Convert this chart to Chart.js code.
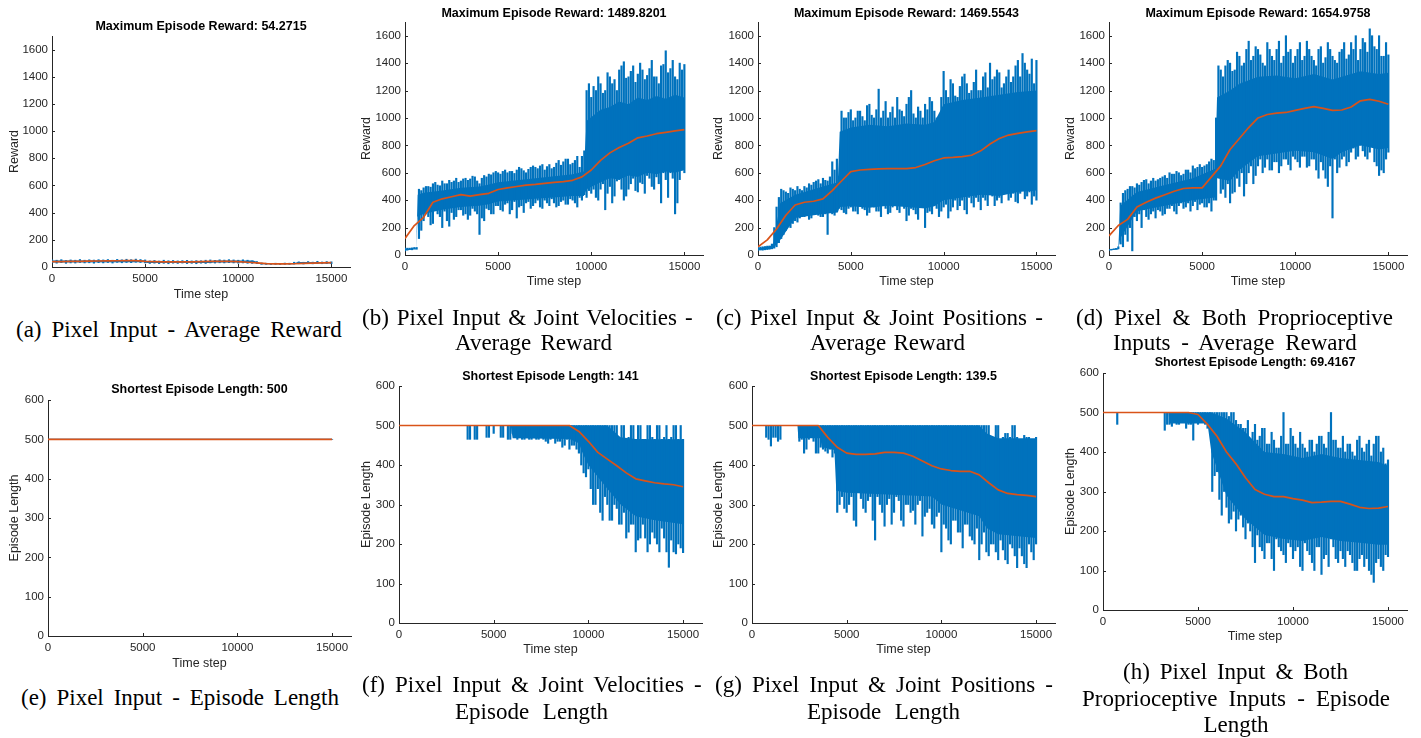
<!DOCTYPE html>
<html><head><meta charset="utf-8">
<script src="https://cdn.jsdelivr.net/npm/chart.js@4.4.1/dist/chart.umd.min.js"></script>
<style>
html,body{margin:0;padding:0;background:#fff;}
#page{position:relative;width:1421px;height:738px;overflow:hidden;background:#fff;}
canvas{position:absolute;}
.ttl{position:absolute;font-family:"Liberation Sans",Arial,Helvetica,sans-serif;font-weight:bold;font-size:12.5px;line-height:15px;color:#000;text-align:center;white-space:nowrap;width:400px;}
.cap{position:absolute;font-family:"Liberation Serif","Times New Roman",serif;font-size:23px;line-height:26px;color:#000;white-space:nowrap;}
</style></head><body><div id="page"></div>
<script>
// ---- tick labels ----
const XTICKS = [0,5000,10000,15000];
const YTICKS_REWARD = [0,200,400,600,800,1000,1200,1400,1600];
const YTICKS_LENGTH = [0,100,200,300,400,500,600];

// ---- time steps of the sampled raw-noise extremes ----
const X = [0,250,500,750,1000,1250,1500,1750,2000,2250,
  2500,2750,3000,3250,3500,3750,4000,4250,4500,4750,
  5000,5250,5500,5750,6000,6250,6500,6750,7000,7250,
  7500,7750,8000,8250,8500,8750,9000,9250,9500,9750,
  10000,10250,10500,10750,11000,11250,11500,11750,12000,12250,
  12500,12750,13000,13250,13500,13750,14000,14250,14500,14750,
  15000];
const X2 = [125,375,625,875,1125,1375,1625,1875,2125,2375,
  2625,2875,3125,3375,3625,3875,4125,4375,4625,4875,
  5125,5375,5625,5875,6125,6375,6625,6875,7125,7375,
  7625,7875,8125,8375,8625,8875,9125,9375,9625,9875,
  10125,10375,10625,10875,11125,11375,11625,11875,12125,12375,
  12625,12875,13125,13375,13625,13875,14125,14375,14625,14875];
// ---- time steps of the smoothed (average) curve ----
const XS = [0,500,1000,1500,2000,2500,3000,3500,4000,4500,
  5000,5500,6000,6500,7000,7500,8000,8500,9000,9500,
  10000,10500,11000,11500,12000,12500,13000,13500,14000,14500,15000];
const XE = [0,15000];

// (a) Pixel Input - Average Reward
const hiA = [52,50,54,48,52,50,55,50,53,51,
  54,52,55,50,56,53,57,54,58,55,
  52,45,48,44,50,46,48,45,47,49,
  45,47,46,50,52,49,53,51,54,52,
  50,53,50,45,40,30,28,27,28,27,
  29,28,35,38,35,40,36,42,37,40,
  38];
const loA = [30,28,32,27,30,29,33,30,31,28,
  32,30,33,29,34,31,33,32,35,33,
  30,26,28,25,27,24,28,26,29,25,
  27,24,28,26,30,29,31,30,32,30,
  28,30,27,26,25,20,19,18,19,18,
  20,19,22,24,22,25,23,26,24,25,
  24];
const coreXA = [0,5000,5100,8500,8700,10800,11200,13000,13200,15000];
const coreHiA = [48,50,42,42,48,48,27,27,36,36];
const coreLoA = [33,35,29,29,34,34,21,21,26,26];
const avgA = [40,40,41,42,43,44,45,46,48,47,41,39,38,37,37,38,40,41,42,42,40,35,30,25,23,23,24,26,28,30,32];

// (b) Pixel Input & Joint Velocities - Average Reward
const hiB = [50,50,55,480,490,500,520,510,540,520,
  530,560,540,560,555,570,520,580,590,600,
  600,610,600,610,620,630,600,640,640,650,
  620,660,640,690,680,700,670,720,720,1200,
  1150,1200,1250,1200,1300,1280,1350,1410,1300,1380,
  1320,1350,1310,1420,1300,1380,1490,1360,1300,1400,
  1390];
const loB = [30,40,45,120,250,280,230,300,200,250,
  310,280,330,300,290,320,150,250,330,300,
  360,320,380,330,270,360,380,340,380,350,
  400,360,380,360,400,370,400,350,400,420,
  450,420,480,330,500,430,550,400,480,560,
  460,520,580,500,570,380,550,600,300,550,
  600];
const hi2B = [50,52,55,470,500,495,530,505,520,545,
  540,530,555,545,575,540,560,570,585,610,
  590,620,610,595,640,615,625,650,630,660,
  645,630,670,655,700,660,690,640,760,1250,
  1230,1300,1180,1330,1250,1200,1380,1290,1340,1260,
  1400,1280,1360,1300,1250,1390,1330,1420,1280,1350];
const lo2B = [35,38,42,180,300,220,330,280,320,210,
  260,330,290,260,340,300,270,340,300,360,
  330,370,300,390,350,310,390,360,400,340,
  380,410,350,390,370,410,380,420,440,470,
  480,400,520,450,380,540,480,430,520,470,
  530,450,560,480,520,600,420,560,380,620];
const coreXB = [0,600,680,1000,2000,3000,4000,4500,5000,6000,7000,8000,9000,9600,9750,10500,11000,11500,12000,12500,13000,13500,14000,14500,15000];
const coreHiB = [45,50,440,455,470,490,500,515,530,545,560,575,590,610,980,1060,1080,1120,1100,1150,1130,1160,1140,1170,1150];
const coreLoB = [35,42,280,300,330,350,360,370,390,400,410,420,430,430,480,530,560,550,580,570,600,590,610,600,620];
const avgB = [120,215,275,385,410,425,440,430,440,450,478,490,500,510,515,522,530,535,545,570,620,690,745,785,815,855,868,885,895,905,915];

// (c) Pixel Input & Joint Positions - Average Reward
const hiC = [60,60,65,80,350,480,460,490,470,480,
  500,520,530,550,560,540,680,700,1050,1000,
  1060,1000,1050,980,1100,1000,1210,1050,1000,1080,
  1150,1050,1100,1200,1000,1050,1100,1150,1050,1000,
  1340,1150,1250,1150,1300,1250,1200,1350,1200,1330,
  1400,1300,1330,1250,1350,1300,1420,1470,1350,1430,
  1420];
const loC = [35,35,40,45,60,120,180,200,250,270,
  280,260,300,290,280,150,300,320,330,300,
  350,320,360,330,310,350,320,360,300,350,
  330,370,250,340,300,350,200,320,360,280,
  350,270,350,330,400,300,380,420,330,400,
  450,360,420,480,400,450,380,480,430,370,
  400];
const hi2C = [58,62,66,200,420,470,450,480,500,470,
  490,510,540,520,545,570,620,560,1000,1040,
  980,1050,1010,1090,1020,1060,1000,1120,1040,1000,
  1060,1010,1150,1030,1080,1000,1060,1120,1000,1150,
  1200,1280,1160,1230,1320,1180,1260,1200,1300,1220,
  1280,1350,1220,1300,1260,1380,1300,1400,1320,1250];
const lo2C = [36,38,42,50,90,150,210,230,240,280,
  300,270,310,280,300,310,290,340,310,340,
  320,300,340,290,360,320,280,340,310,360,
  310,340,290,330,260,350,310,300,340,320,
  370,320,400,360,330,420,350,390,420,360,
  430,400,380,460,420,390,450,410,460,430];
const coreXC = [0,800,1200,2000,3000,3500,4300,4400,5000,6000,7000,8000,9000,9500,10000,11000,12000,13000,14000,15000];
const coreHiC = [50,70,380,440,480,500,530,900,930,950,940,960,950,970,1100,1130,1150,1170,1190,1200];
const coreLoC = [35,45,110,270,290,300,310,350,355,345,360,350,340,355,400,420,440,430,460,470];
const avgC = [60,110,190,290,365,385,392,410,470,540,608,620,625,628,630,630,630,638,660,688,708,712,718,728,760,810,850,875,888,898,908];

// (d) Pixel & Both Proprioceptive Inputs - Average Reward
const hiD = [40,45,60,450,480,500,520,530,550,540,
  540,560,580,600,590,600,590,620,650,640,
  640,660,700,1000,1350,1380,1400,1350,1450,1400,
  1560,1450,1500,1400,1550,1450,1500,1400,1600,1500,
  1450,1550,1450,1500,1420,1500,1400,1550,1450,1400,
  1500,1430,1550,1600,1500,1550,1650,1520,1600,1450,
  1460];
const loD = [35,40,45,60,100,30,250,200,280,300,
  270,320,300,340,320,360,340,380,360,330,
  380,350,320,400,450,420,380,460,500,430,
  600,520,650,600,700,620,680,650,700,620,
  700,640,720,650,700,560,620,500,270,600,
  700,650,750,700,800,720,750,680,580,600,
  750];
const hi2D = [42,48,380,470,500,490,510,545,520,560,
  550,570,560,590,610,580,620,600,630,660,
  650,680,690,1380,1300,1420,1340,1480,1380,1500,
  1420,1520,1460,1380,1500,1420,1560,1450,1480,1400,
  1500,1420,1560,1450,1380,1520,1440,1500,1420,1480,
  1550,1460,1500,1420,1580,1480,1600,1500,1450,1550];
const lo2D = [36,42,80,150,200,280,300,330,260,320,
  330,290,340,360,300,380,350,320,390,370,
  350,380,400,600,480,520,450,560,600,520,
  650,580,700,640,620,680,600,700,660,720,
  680,720,640,700,620,680,560,650,700,640,
  720,680,780,720,760,700,800,650,620,700];
const coreXD = [0,500,600,1500,3000,4500,5700,5800,6500,7000,8000,9000,10000,11000,12000,12500,13500,14500,15000];
const coreHiD = [40,50,360,460,510,560,630,1150,1200,1250,1300,1310,1290,1320,1280,1300,1340,1320,1330];
const coreLoD = [35,40,120,320,360,400,420,560,540,620,720,740,760,750,700,750,800,770,780];
const avgD = [140,215,260,350,385,415,440,465,485,490,490,570,650,770,850,930,1000,1025,1035,1040,1055,1070,1082,1070,1055,1058,1080,1125,1135,1122,1100];

// (e) Pixel Input - Episode Length
const lineE = [500,500];
const avgE = [500,500];

// (f) Pixel Input & Joint Velocities - Episode Length
const hiF = [500,500,500,500,500,500,500,500,500,500,
  500,500,500,500,500,500,500,500,500,500,
  500,500,500,500,500,500,500,500,500,500,
  500,500,500,500,500,500,500,500,500,500,
  500,500,500,500,500,500,500,500,465,500,
  465,500,465,500,465,500,470,465,500,465,
  465];
const loF = [500,500,500,500,500,500,500,500,500,500,
  500,500,500,500,500,465,465,500,500,470,
  480,500,470,465,480,465,465,470,465,465,
  470,460,465,455,460,450,440,450,430,380,
  390,300,340,260,300,260,290,250,215,250,
  180,215,215,200,215,180,215,141,180,200,
  178];
const hi2F = [500,500,500,500,500,500,500,500,500,500,
  500,500,500,500,500,500,500,500,500,500,
  500,500,500,500,500,500,500,500,500,500,
  500,500,500,500,500,500,500,500,500,500,
  500,500,500,500,500,500,465,500,470,500,
  500,465,500,470,500,465,500,470,500,500];
const lo2F = [500,500,500,500,500,500,500,500,500,500,
  500,500,500,500,465,500,465,500,470,500,
  500,470,500,465,470,500,465,465,470,465,
  465,455,470,460,445,465,450,440,400,370,
  340,300,280,320,260,300,250,280,230,250,
  210,250,180,230,200,240,180,210,175,190];
const coreXF = [0,5900,6000,9000,9500,9700,10000,11000,11700,12500,13500,15000];
const coreHiF = [500,500,500,500,500,500,500,500,470,466,465,465];
const coreLoF = [500,500,468,466,455,430,400,340,300,270,260,250];
const avgF = [500,500,500,500,500,500,500,500,500,500,500,500,500,500,500,500,500,500,500,485,460,432,415,398,380,365,360,355,352,350,345];

// (g) Pixel Input & Joint Positions - Episode Length
const hiG = [500,500,500,500,500,500,500,500,500,500,
  500,500,500,500,500,500,500,500,500,500,
  500,500,500,500,500,500,500,500,500,500,
  500,500,500,500,500,500,500,500,500,500,
  500,500,500,500,500,500,500,500,500,500,
  500,470,500,470,480,500,470,460,470,460,
  470];
const loG = [500,500,500,470,448,470,465,500,500,500,
  460,430,465,460,430,440,430,420,280,320,
  280,320,245,315,280,320,210,300,245,315,
  280,310,245,300,285,300,220,280,250,270,
  180,240,200,260,230,250,220,200,160,230,
  170,200,160,185,150,190,140,170,140,180,
  200];
const hi2G = [500,500,500,500,500,500,500,500,500,500,
  500,500,500,500,500,500,500,500,500,500,
  500,500,500,500,500,500,500,500,500,500,
  500,500,500,500,500,500,500,500,500,500,
  500,500,500,500,500,500,500,500,500,500,
  470,500,465,480,470,500,465,475,470,465];
const lo2G = [500,500,500,465,470,460,500,500,500,500,
  465,440,470,430,445,435,440,430,300,290,
  300,260,330,290,310,260,320,280,300,250,
  320,260,300,280,250,310,270,290,240,280,
  250,210,260,230,190,250,210,240,200,180,
  200,180,210,160,200,170,190,150,200,160];
const coreXG = [0,2400,2450,3600,3700,4350,4450,5000,9500,10000,12000,12400,13000,15000];
const coreHiG = [500,500,500,500,500,500,500,500,500,500,500,480,468,468];
const coreLoG = [500,500,468,468,445,438,335,330,320,300,270,240,225,215];
const avgG = [500,500,500,500,500,500,500,500,470,445,430,427,427,428,432,432,430,422,410,398,390,386,384,384,375,355,337,328,325,323,320];

// (h) Pixel Input & Both Proprioceptive Inputs - Episode Length
const hiH = [500,500,500,500,500,500,500,500,500,500,
  500,500,500,500,500,500,500,500,500,500,
  500,500,500,500,500,500,500,500,480,470,
  460,430,470,440,460,420,430,410,500,420,
  440,410,420,400,430,420,440,410,500,430,
  410,400,420,390,440,400,430,420,440,410,
  380];
const loH = [500,500,500,470,500,500,500,500,500,500,
  500,500,500,455,470,500,470,475,470,430,
  470,475,460,300,350,240,260,230,200,240,
  180,200,120,160,130,170,100,160,140,170,
  130,160,100,150,120,160,90,140,180,130,
  150,110,140,100,130,110,100,70,130,100,
  135];
const hi2H = [500,500,500,500,500,500,500,500,500,500,
  500,500,500,500,500,500,500,500,500,500,
  500,500,500,500,500,500,490,500,470,460,
  480,450,430,460,420,450,410,440,420,460,
  420,450,410,430,400,440,420,450,430,410,
  440,420,400,430,410,420,390,440,400,370];
const lo2H = [500,500,500,500,500,500,500,500,500,500,
  500,500,500,470,465,470,475,460,470,475,
  475,470,470,340,280,300,220,250,230,210,
  220,160,190,150,170,130,180,150,120,160,
  150,110,170,140,100,160,130,110,160,120,
  130,150,120,100,140,130,90,120,110,140];
const coreXH = [0,3450,3500,5500,5700,6500,7500,8500,9500,10500,11500,12500,13500,14500,15000];
const coreHiH = [500,500,500,500,500,485,450,400,395,385,395,385,380,375,365];
const coreLoH = [500,500,472,472,400,290,230,190,180,175,185,175,170,165,165];
const avgH = [500,500,500,500,500,500,500,500,500,500,495,470,440,400,370,335,305,293,287,287,282,278,272,273,275,275,268,260,257,258,262];

const BLUE = '#0072BD', ORANGE = '#D95319', AXIS = '#262626';
const FONT = '"Liberation Sans", Arial, Helvetica, sans-serif';

const panels = [
 {title:'Maximum Episode Reward: 54.2715', ylabel:'Reward', ymax:1700, yticks:YTICKS_REWARD,
  xs:X, hi:hiA, lo:loA, cx:coreXA, chi:coreHiA, clo:coreLoA, avg:avgA,
  axL:52, axR:350, axT:36, axB:267, yTitleX:14, xTitleY:294, titleY:26,
  caption:[{t:'(a) Pixel Input - Average Reward', x0:16, x1:343, y:330}]},
 {title:'Maximum Episode Reward: 1489.8201', ylabel:'Reward', ymax:1700, yticks:YTICKS_REWARD,
  xs:X, hi:hiB, lo:loB, x2:X2, hi2:hi2B, lo2:lo2B, cx:coreXB, chi:coreHiB, clo:coreLoB, avg:avgB,
  axL:405, axR:703, axT:22, axB:255, yTitleX:366.7, xTitleY:281, titleY:13.3,
  caption:[{t:'(b) Pixel Input & Joint Velocities -', x0:362, x1:693, y:318},{t:'Average Reward', x0:455, x1:612, y:343}]},
 {title:'Maximum Episode Reward: 1469.5543', ylabel:'Reward', ymax:1700, yticks:YTICKS_REWARD,
  xs:X, hi:hiC, lo:loC, x2:X2, hi2:hi2C, lo2:lo2C, cx:coreXC, chi:coreHiC, clo:coreLoC, avg:avgC,
  axL:758, axR:1055, axT:22, axB:255, yTitleX:718.3, xTitleY:281, titleY:13.3,
  caption:[{t:'(c) Pixel Input & Joint Positions -', x0:716, x1:1043, y:318},{t:'Average Reward', x0:810, x1:965, y:343}]},
 {title:'Maximum Episode Reward: 1654.9758', ylabel:'Reward', ymax:1700, yticks:YTICKS_REWARD,
  xs:X, hi:hiD, lo:loD, x2:X2, hi2:hi2D, lo2:lo2D, cx:coreXD, chi:coreHiD, clo:coreLoD, avg:avgD,
  axL:1109, axR:1407, axT:22, axB:255, yTitleX:1070, xTitleY:281, titleY:13.3,
  caption:[{t:'(d) Pixel & Both Proprioceptive', x0:1076, x1:1393, y:318},{t:'Inputs - Average Reward', x0:1113, x1:1358, y:343}]},
 {title:'Shortest Episode Length: 500', ylabel:'Episode Length', ymax:600, yticks:YTICKS_LENGTH,
  xs:XE, hi:lineE, lo:lineE, cx:XE, chi:lineE, clo:lineE, avg:avgE, xa:XE, lineOnly:true,
  axL:48, axR:351, axT:400, axB:636, yTitleX:14, xTitleY:663, titleY:389.3,
  caption:[{t:'(e) Pixel Input - Episode Length', x0:21, x1:339, y:698}]},
 {title:'Shortest Episode Length: 141', ylabel:'Episode Length', ymax:600, yticks:YTICKS_LENGTH,
  xs:X, hi:hiF, lo:loF, x2:X2, hi2:hi2F, lo2:lo2F, cx:coreXF, chi:coreHiF, clo:coreLoF, avg:avgF,
  axL:399, axR:702, axT:386, axB:623, yTitleX:366.7, xTitleY:649, titleY:376,
  caption:[{t:'(f) Pixel Input & Joint Velocities -', x0:362, x1:702, y:685},{t:'Episode Length', x0:455, x1:608, y:712}]},
 {title:'Shortest Episode Length: 139.5', ylabel:'Episode Length', ymax:600, yticks:YTICKS_LENGTH,
  xs:X, hi:hiG, lo:loG, x2:X2, hi2:hi2G, lo2:lo2G, cx:coreXG, chi:coreHiG, clo:coreLoG, avg:avgG,
  axL:752, axR:1055, axT:386, axB:623, yTitleX:718.3, xTitleY:649.3, titleY:376,
  caption:[{t:'(g) Pixel Input & Joint Positions -', x0:715, x1:1053, y:685},{t:'Episode Length', x0:807, x1:960, y:712}]},
 {title:'Shortest Episode Length: 69.4167', ylabel:'Episode Length', ymax:600, yticks:YTICKS_LENGTH,
  xs:X, hi:hiH, lo:loH, x2:X2, hi2:hi2H, lo2:lo2H, cx:coreXH, chi:coreHiH, clo:coreLoH, avg:avgH,
  axL:1103, axR:1407, axT:373, axB:610, yTitleX:1070.7, xTitleY:636.7, titleY:362.3,
  caption:[{t:'(h) Pixel Input & Both', x0:1123, x1:1348, y:672},{t:'Proprioceptive Inputs - Episode', x0:1082, x1:1390, y:699},{t:'Length', x0:1202, x1:1270, y:725}]}
];

const inwardTicks = {
  id:'inwardTicks',
  beforeDatasetsDraw(chart){
    const ctx = chart.ctx, ca = chart.chartArea;
    const xs = chart.scales.x, ys = chart.scales.y;
    ctx.save(); ctx.strokeStyle = AXIS; ctx.lineWidth = 1; ctx.beginPath();
    xs.ticks.forEach(t => { const px = Math.round(xs.getPixelForValue(t.value)) + 0.5; ctx.moveTo(px, ca.bottom); ctx.lineTo(px, ca.bottom - 3); });
    ys.ticks.forEach(t => { const py = Math.round(ys.getPixelForValue(t.value)) + 0.5; ctx.moveTo(ca.left, py); ctx.lineTo(ca.left + 3, py); });
    ctx.stroke(); ctx.restore();
  }
};

const page = document.getElementById('page');
const mctx = document.createElement('canvas').getContext('2d');
mctx.font = '23px "Liberation Serif", "Times New Roman", serif';
const PADT = 12, PADR = 14;

panels.forEach(p => {
  const cLeft = Math.round(p.yTitleX - 7.5);
  const yW = p.axL - cLeft;
  const cTop = p.axT - PADT;
  const xBottom = Math.round(p.xTitleY + 7.5);
  const xH = xBottom - p.axB;
  const cW = p.axR + PADR - cLeft;
  const cH = xBottom - cTop;
  const cv = document.createElement('canvas');
  cv.width = cW; cv.height = cH;
  cv.style.left = cLeft + 'px'; cv.style.top = cTop + 'px';
  cv.style.width = cW + 'px'; cv.style.height = cH + 'px';
  page.appendChild(cv);

  const xa = p.xa || XS;
  const pts = (xx, yy) => xx.map((x, i) => ({x: x, y: yy[i]}));
  const rng = (xx, lo, hi) => xx.map((x, i) => ({x: x, y: [lo[i], hi[i]]}));
  const datasets = [
    {type: 'line', order: 0, data: pts(xa, p.avg), borderColor: ORANGE, borderWidth: 1.7, pointRadius: 0, fill: false, tension: 0, borderJoinStyle: 'round'},
    {type: 'bar', order: 1, data: rng(p.xs, p.lo, p.hi), backgroundColor: BLUE, borderWidth: 0, barThickness: 1.5, grouped: false},
    {type: 'bar', order: 2, data: p.x2 ? rng(p.x2, p.lo2, p.hi2) : [], backgroundColor: BLUE, borderWidth: 0, barThickness: 1.5, grouped: false},
    {type: 'line', order: 3, data: pts(p.cx, p.clo), borderColor: BLUE, borderWidth: p.lineOnly ? 1 : 0, pointRadius: 0, fill: false, tension: 0},
    {type: 'line', order: 4, data: pts(p.cx, p.chi), borderColor: BLUE, borderWidth: p.lineOnly ? 1 : 0, pointRadius: 0, fill: 3, backgroundColor: BLUE, tension: 0}
  ];
  new Chart(cv.getContext('2d'), {
    type: 'line',
    data: { datasets: datasets },
    options: {
      responsive: false, maintainAspectRatio: false, animation: false, events: [],
      layout: {padding: {top: PADT, right: PADR, left: 0, bottom: 0}},
      plugins: {legend: {display: false}, tooltip: {enabled: false}, title: {display: false}},
      scales: {
        x: {type: 'linear', min: 0, max: 16000, offset: false,
          ticks: {autoSkip: false, maxRotation: 0, padding: 5, color: AXIS, font: {family: FONT, size: 11.5}, callback: v => String(v)},
          afterBuildTicks: s => { s.ticks = XTICKS.map(v => ({value: v})); },
          grid: {display: false, drawTicks: false, offset: false}, border: {display: true, color: AXIS, width: 1},
          title: {display: true, text: 'Time step', color: AXIS, font: {family: FONT, size: 12.5}, padding: 0},
          afterFit: s => { s.height = xH; }},
        y: {type: 'linear', min: 0, max: p.ymax,
          ticks: {autoSkip: false, padding: 4, color: AXIS, font: {family: FONT, size: 11.5}, callback: v => String(v)},
          afterBuildTicks: s => { s.ticks = p.yticks.map(v => ({value: v})); },
          grid: {display: false, drawTicks: false}, border: {display: true, color: AXIS, width: 1},
          title: {display: true, text: p.ylabel, color: AXIS, font: {family: FONT, size: 12.5}, padding: 0},
          afterFit: s => { s.width = yW; }}
      }
    },
    plugins: [inwardTicks]
  });

  const t = document.createElement('div');
  t.className = 'ttl'; t.textContent = p.title;
  t.style.left = ((p.axL + p.axR) / 2 - 200) + 'px';
  t.style.top = (p.titleY - 7.5) + 'px';
  page.appendChild(t);

  p.caption.forEach(c => {
    const d = document.createElement('div');
    d.className = 'cap'; d.textContent = c.t;
    const nat = mctx.measureText(c.t).width;
    const target = c.x1 - c.x0;
    const spaces = (c.t.match(/ /g) || []).length;
    if (spaces > 0) {
      let ws = (target - nat) / spaces;
      ws = Math.max(-2, Math.min(8, ws));
      d.style.wordSpacing = ws + 'px';
      d.style.left = c.x0 + 'px';
    } else {
      d.style.left = ((c.x0 + c.x1) / 2 - nat / 2) + 'px';
    }
    d.style.top = (c.y - 13) + 'px';
    page.appendChild(d);
  });
});
</script></body></html>
